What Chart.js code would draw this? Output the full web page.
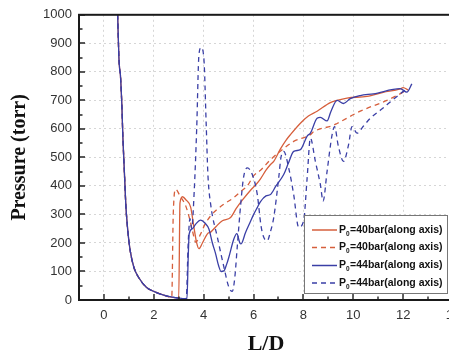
<!DOCTYPE html>
<html>
<head>
<meta charset="utf-8">
<script src="https://cdn.jsdelivr.net/npm/chart.js@4.4.1/dist/chart.umd.min.js"></script>
<style>
    html, body { margin: 0; padding: 0; background: #fff; overflow: hidden; }
    canvas { display: block; }
</style>
</head>
<body>
<canvas id="pressureChart" width="470" height="358"></canvas>
<script>
const xTicks = [0, 2, 4, 6, 8, 10, 12, 14];
const xMinorTicks = [-1, 1, 3, 5, 7, 9, 11, 13];
const yTicks = [0, 100, 200, 300, 400, 500, 600, 700, 800, 900, 1000];
const yMinorTicks = [50, 150, 250, 350, 450, 550, 650, 750, 850, 950];

// shared expansion part near the nozzle
const decayLD = [0.55, 0.6, 0.63, 0.66, 0.72, 0.76, 0.81, 0.88, 0.95, 1.05, 1.2, 1.4, 1.7, 2.0, 2.4];
const decayP = [1000, 850, 810, 790, 680, 570, 470, 330, 250, 175, 115, 78, 45, 30, 17];

const solid40LD = [2.7, 2.9, 3.0, 3.05, 3.15, 3.3, 3.48, 3.6, 3.72, 3.81, 3.95, 4.15, 4.28, 4.5, 4.75, 5.08, 5.3, 5.55, 5.88, 6.1, 6.28, 6.5, 6.68, 6.81, 7.08, 7.3, 7.48, 7.88, 8.2, 8.55, 9.08, 9.35, 9.75, 10.55, 11.2, 11.88, 12.0, 12.2];
const solid40P = [10, 8, 7, 340, 362, 350, 325, 260, 200, 180, 200, 232, 238, 258, 278, 289, 320, 350, 385, 405, 425, 455, 475, 486, 530, 560, 580, 620, 645, 662, 692, 700, 708, 714, 728, 740, 745, 736];

const dashed40LD = [2.6, 2.72, 2.78, 2.88, 3.05, 3.28, 3.45, 3.55, 3.68, 3.88, 4.05, 4.28, 4.5, 4.81, 5.21, 5.48, 5.75, 6.0, 6.28, 6.68, 7.15, 7.61, 8.28, 8.41, 9.21, 9.35, 10.28, 11.35, 12.0, 12.15];
const dashed40P = [11, 10, 300, 388, 365, 330, 280, 243, 203, 232, 265, 295, 315, 336, 359, 380, 400, 435, 455, 492, 527, 556, 580, 590, 613, 619, 662, 700, 729, 738];

const solid44LD = [2.8, 3.2, 3.33, 3.38, 3.42, 3.55, 3.68, 3.88, 4.05, 4.21, 4.35, 4.48, 4.6, 4.7, 4.81, 4.92, 5.01, 5.21, 5.33, 5.45, 5.5, 5.68, 5.85, 6.01, 6.15, 6.28, 6.5, 6.68, 6.9, 7.21, 7.4, 7.61, 7.88, 8.15, 8.28, 8.55, 8.68, 8.95, 9.1, 9.35, 9.61, 9.88, 10.28, 10.81, 11.88, 12.15, 12.35];
const solid44P = [9, 5, 4, 150, 232, 250, 266, 280, 270, 249, 200, 162, 120, 100, 102, 125, 150, 214, 233, 200, 197, 237, 270, 301, 324, 345, 365, 370, 400, 440, 480, 521, 527, 575, 585, 637, 640, 628, 660, 700, 689, 706, 717, 723, 741, 729, 758];

const dashed44LD = [2.8, 3.2, 3.3, 3.38, 3.45, 3.52, 3.62, 3.72, 3.81, 3.9, 4.01, 4.1, 4.17, 4.28, 4.55, 4.81, 5.01, 5.15, 5.25, 5.35, 5.48, 5.6, 5.75, 5.95, 6.15, 6.3, 6.41, 6.55, 6.68, 6.81, 7.01, 7.1, 7.21, 7.41, 7.61, 7.81, 8.01, 8.15, 8.28, 8.48, 8.68, 8.79, 8.95, 9.15, 9.25, 9.4, 9.61, 9.81, 9.95, 10.15, 10.41, 10.68, 11.08, 11.48, 11.88, 12.15];
const dashed44P = [9, 5, 5, 200, 285, 250, 380, 600, 860, 885, 845, 620, 440, 336, 220, 116, 45, 30, 80, 190, 330, 430, 463, 440, 370, 260, 220, 208, 240, 289, 428, 500, 521, 463, 370, 255, 278, 428, 567, 486, 405, 347, 451, 579, 608, 540, 486, 544, 608, 585, 610, 637, 665, 694, 723, 741];

const seriesLabels = ["40bar(along axis)", "40bar(along axis)", "44bar(along axis)", "44bar(along axis)"];

const RED = "#d65f3c";
const BLUE = "#3a3fa6";

function toPoints(lds, ps) {
    const all = decayLD.map((v, i) => ({ x: v, y: decayP[i] }));
    lds.forEach((v, i) => all.push({ x: v, y: ps[i] }));
    return all;
}

function makeSet(label, lds, ps, color, dashed, order) {
    return {
        label: label,
        data: toPoints(lds, ps),
        borderColor: color,
        borderWidth: 1.3,
        borderDash: dashed ? [5, 4] : [],
        pointRadius: 0,
        fill: false,
        cubicInterpolationMode: "monotone",
        order: order
    };
}

const frameAndLegend = {
    id: "frameAndLegend",
    afterDraw(chart) {
        const { ctx, chartArea: a, scales: { x, y } } = chart;
        ctx.save();

        // inward ticks
        ctx.strokeStyle = "#222";
        ctx.lineWidth = 1.4;
        ctx.beginPath();
        xTicks.forEach(v => {
            const px = Math.round(x.getPixelForValue(v));
            ctx.moveTo(px, a.bottom); ctx.lineTo(px, a.bottom - 6);
        });
        xMinorTicks.forEach(v => {
            const px = Math.round(x.getPixelForValue(v));
            ctx.moveTo(px, a.bottom); ctx.lineTo(px, a.bottom - 3.5);
        });
        yTicks.forEach(v => {
            const py = Math.round(y.getPixelForValue(v));
            ctx.moveTo(a.left, py); ctx.lineTo(a.left + 6, py);
        });
        yMinorTicks.forEach(v => {
            const py = Math.round(y.getPixelForValue(v));
            ctx.moveTo(a.left, py); ctx.lineTo(a.left + 3.5, py);
        });
        ctx.stroke();

        // frame
        ctx.lineWidth = 2;
        ctx.strokeStyle = "#1a1a1a";
        ctx.strokeRect(a.left, a.top, a.right - a.left, a.bottom - a.top);

        // legend box
        const bx = 304, by = 215, bw = 143, bh = 78;
        ctx.fillStyle = "#fff";
        ctx.fillRect(bx, by, bw, bh);
        ctx.lineWidth = 1;
        ctx.strokeStyle = "#777";
        ctx.strokeRect(bx + 0.5, by + 0.5, bw, bh);

        const rowY = [230, 247.5, 265.5, 283];
        chart.data.datasets.forEach((ds, i) => {
            const ry = rowY[i];
            ctx.strokeStyle = ds.borderColor;
            ctx.lineWidth = 1.5;
            ctx.setLineDash(ds.borderDash.length ? [5, 4] : []);
            ctx.beginPath();
            ctx.moveTo(312, ry); ctx.lineTo(337, ry);
            ctx.stroke();
            ctx.setLineDash([]);

            ctx.fillStyle = "#111";
            ctx.textBaseline = "middle";
            ctx.textAlign = "left";
            ctx.font = "bold 10.5px 'Liberation Sans', Arial, sans-serif";
            let tx = 339;
            ctx.fillText("P", tx, ry);
            tx += ctx.measureText("P").width;
            ctx.font = "bold 6.5px 'Liberation Sans', Arial, sans-serif";
            ctx.fillText("0", tx, ry + 4);
            tx += ctx.measureText("0").width + 0.5;
            ctx.font = "bold 10.5px 'Liberation Sans', Arial, sans-serif";
            ctx.fillText("=" + ds.label, tx, ry);
        });

        ctx.restore();
    }
};

const ctx = document.getElementById("pressureChart").getContext("2d");

new Chart(ctx, {
    type: "line",
    data: {
        datasets: [
            makeSet(seriesLabels[0], solid40LD, solid40P, RED, false, 4),
            makeSet(seriesLabels[1], dashed40LD, dashed40P, RED, true, 3),
            makeSet(seriesLabels[2], solid44LD, solid44P, BLUE, false, 1),
            makeSet(seriesLabels[3], dashed44LD, dashed44P, BLUE, true, 2)
        ]
    },
    options: {
        responsive: false,
        animation: false,
        layout: { padding: { top: 12, right: 17, left: 0, bottom: 0 } },
        plugins: {
            legend: { display: false },
            tooltip: { enabled: false }
        },
        scales: {
            x: {
                type: "linear",
                min: -1,
                max: 14,
                afterBuildTicks: scale => { scale.ticks = xTicks.map(v => ({ value: v })); },
                afterFit: scale => { scale.height = 58; },
                grid: { color: "#d6d6d6", lineWidth: 1, drawTicks: false },
                border: { display: false, dash: [2, 3] },
                ticks: {
                    padding: 8,
                    color: "#333",
                    callback: v => String(v),
                    font: { family: "'Liberation Sans', Arial, sans-serif", size: 13 }
                },
                title: {
                    display: true,
                    text: "L/D",
                    color: "#111",
                    padding: { top: 0, bottom: 0 },
                    font: { family: "'Liberation Serif', 'Times New Roman', serif", size: 22, weight: "bold" }
                }
            },
            y: {
                type: "linear",
                min: 0,
                max: 1000,
                afterBuildTicks: scale => { scale.ticks = yTicks.map(v => ({ value: v })); },
                afterFit: scale => { scale.width = 79; },
                grid: { color: "#d6d6d6", lineWidth: 1, drawTicks: false },
                border: { display: false, dash: [2, 3] },
                ticks: {
                    padding: 7,
                    color: "#333",
                    callback: v => String(v),
                    font: { family: "'Liberation Sans', Arial, sans-serif", size: 13 }
                },
                title: {
                    display: true,
                    text: "Pressure (torr)",
                    color: "#111",
                    padding: { top: 8, bottom: 0 },
                    font: { family: "'Liberation Serif', 'Times New Roman', serif", size: 20, weight: "bold" }
                }
            }
        }
    },
    plugins: [frameAndLegend]
});
</script>
</body>
</html>
